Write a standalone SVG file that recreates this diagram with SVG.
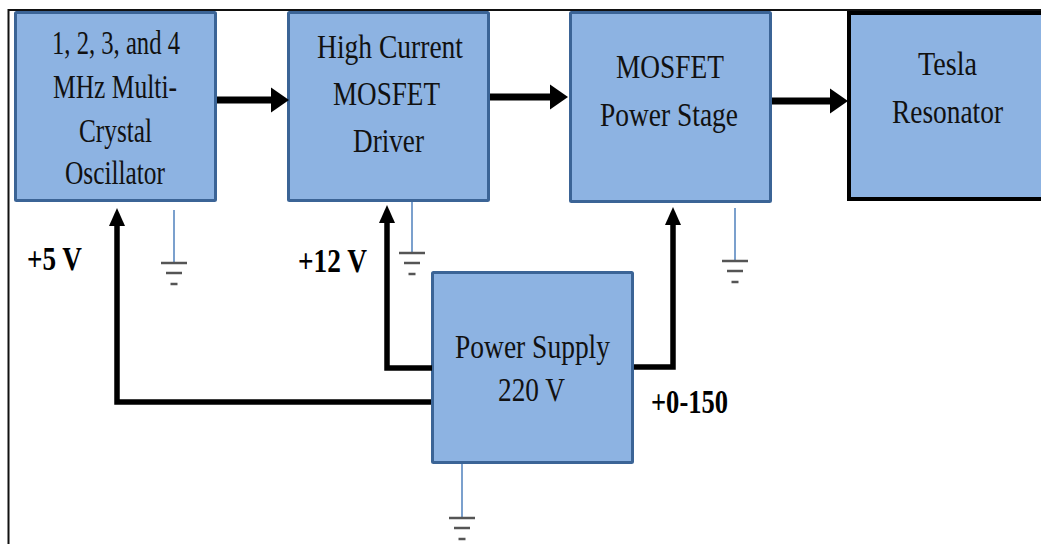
<svg xmlns="http://www.w3.org/2000/svg" width="1041" height="544" viewBox="0 0 1041 544">
<style>
.box{fill:#8db3e2;stroke:#3b6496;stroke-width:3}
.tesla{fill:#8db3e2;stroke:#000;stroke-width:4}
.t{font-family:"Liberation Serif","Times New Roman",serif;font-size:34px;fill:#111;text-anchor:middle}
.lbl{font-family:"Liberation Serif","Times New Roman",serif;font-size:33px;font-weight:bold;fill:#000;text-anchor:middle}
.sig{fill:none;stroke:#000;stroke-width:7}
.pwr{fill:none;stroke:#000;stroke-width:5.5}
.gl{stroke:#4f81bd;stroke-width:1.5}
.gb{stroke:#555;stroke-width:2.5}
</style>
<defs>
<marker id="ah" markerUnits="userSpaceOnUse" viewBox="0 -13 19 26" refX="1" refY="0" markerWidth="19" markerHeight="26" orient="auto"><path d="M0,-12.5 L18,0 L0,12.5 z" fill="#000"/></marker>
<marker id="av" markerUnits="userSpaceOnUse" viewBox="0 -9 19 18" refX="1" refY="0" markerWidth="19" markerHeight="18" orient="auto"><path d="M0,-8 L18,0 L0,8 z" fill="#000"/></marker>
<g id="gnd"><line class="gb" x1="-13" y1="0" x2="13" y2="0"/><line class="gb" x1="-8" y1="10" x2="8" y2="10"/><line class="gb" x1="-3.5" y1="21" x2="3.5" y2="21"/></g>
</defs>
<rect width="1041" height="544" fill="#fff"/>
<g id="frame"><path d="M8.5,544 V10 H1041" fill="none" stroke="#111" stroke-width="2"/></g>

<g id="osc"><rect class="box" x="15.5" y="12.5" width="200" height="188" rx="1"/>
<text class="t" x="116" y="54" textLength="128" lengthAdjust="spacingAndGlyphs">1, 2, 3, and 4</text>
<text class="t" x="115" y="98" textLength="124" lengthAdjust="spacingAndGlyphs">MHz Multi-</text>
<text class="t" x="115.5" y="142" textLength="73" lengthAdjust="spacingAndGlyphs">Crystal</text>
<text class="t" x="115" y="184" textLength="100" lengthAdjust="spacingAndGlyphs">Oscillator</text></g>

<g id="driver"><rect class="box" x="288.5" y="12.5" width="200" height="188" rx="1"/>
<text class="t" x="390" y="58" textLength="146" lengthAdjust="spacingAndGlyphs">High Current</text>
<text class="t" x="386.5" y="105" textLength="107" lengthAdjust="spacingAndGlyphs">MOSFET</text>
<text class="t" x="388.5" y="152" textLength="71" lengthAdjust="spacingAndGlyphs">Driver</text></g>

<g id="stage"><rect class="box" x="570.5" y="12.5" width="200" height="189" rx="1"/>
<text class="t" x="670" y="78" textLength="108" lengthAdjust="spacingAndGlyphs">MOSFET</text>
<text class="t" x="669" y="126" textLength="138" lengthAdjust="spacingAndGlyphs">Power Stage</text></g>

<g id="tesla"><rect class="tesla" x="849" y="13" width="200" height="186"/>
<text class="t" x="947.5" y="75" textLength="59" lengthAdjust="spacingAndGlyphs">Tesla</text>
<text class="t" x="947.5" y="123" textLength="111" lengthAdjust="spacingAndGlyphs">Resonator</text></g>

<g id="psu"><rect class="box" x="432.5" y="272.5" width="200" height="190" rx="1"/>
<text class="t" x="532.5" y="358" textLength="155" lengthAdjust="spacingAndGlyphs">Power Supply</text>
<text class="t" x="531.5" y="401" textLength="67" lengthAdjust="spacingAndGlyphs">220 V</text></g>

<g id="connectors">
<path class="sig" d="M217,100 H272" marker-end="url(#ah)"/>
<path class="sig" d="M490,97 H551" marker-end="url(#ah)"/>
<path class="sig" d="M772,101 H831" marker-end="url(#ah)"/>
<path class="pwr" d="M431,402 H117 V225" marker-end="url(#av)"/>
<path class="pwr" d="M432,368 H387 V222" marker-end="url(#av)"/>
<path class="pwr" d="M634,367 H673 V224" marker-end="url(#av)"/>
</g>

<g id="labels">
<text class="lbl" x="54.5" y="270" textLength="55" lengthAdjust="spacingAndGlyphs">+5 V</text>
<text class="lbl" x="332.5" y="272" textLength="69" lengthAdjust="spacingAndGlyphs">+12 V</text>
<text class="lbl" x="689.5" y="413" textLength="77" lengthAdjust="spacingAndGlyphs">+0-150</text>
</g>

<g id="grounds">
<line class="gl" x1="174" y1="210" x2="174" y2="262"/><use href="#gnd" x="174" y="263"/>
<line class="gl" x1="412" y1="202" x2="412" y2="252"/><use href="#gnd" x="412" y="253"/>
<line class="gl" x1="735" y1="208" x2="735" y2="260"/><use href="#gnd" x="735" y="261"/>
<line class="gl" x1="462" y1="464" x2="462" y2="517"/><use href="#gnd" x="462" y="518"/>
</g>
</svg>
